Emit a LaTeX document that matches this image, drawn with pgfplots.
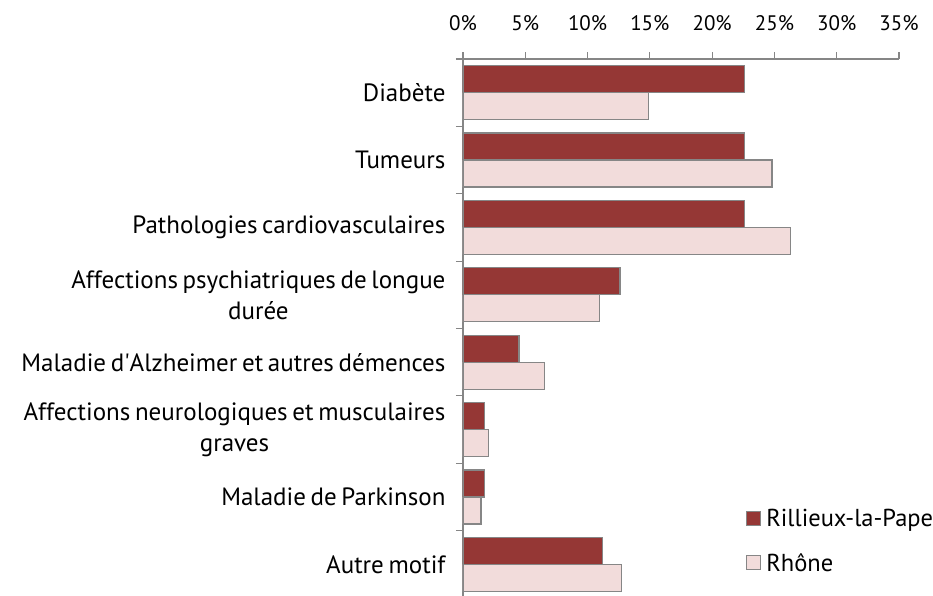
\documentclass[border=0pt]{standalone}
\usepackage{pgfplots}
\pgfplotsset{compat=1.18}
\usepackage{fontspec}
\setmainfont{PT Sans}[WordSpace=0.7]
\newfontfamily\plainapos{PT Sans}[WordSpace=0.7, Ligatures=TeXOff]
\definecolor{rdark}{HTML}{953735}
\definecolor{rlight}{HTML}{F2DCDB}
\definecolor{edge}{HTML}{868686}
\begin{document}
\begin{tikzpicture}
\useasboundingbox (-463pt,3pt) rectangle (470pt,598pt);
\begin{axis}[
  at={(0pt,0pt)}, anchor=south west,
  scale only axis, width=436pt, height=539pt,
  xbar=0pt, bar width=27pt,
  xmin=0, xmax=35, xtick={0,5,...,35},
  /pgf/number format/assume math mode=true,
  xticklabel={\pgfmathprintnumber{\tick}\%},
  xticklabel style={yshift=18pt},
  axis x line*=top, axis y line*=left,
  y dir=reverse, ymin=-0.5, ymax=7.5,
  ytick={-0.5,0.5,...,7.5}, yticklabels={},
  extra y ticks={0,1,2,3,4,5,6,7},
  extra y tick labels={Diabète,Tumeurs,Pathologies cardiovasculaires,{Affections psychiatriques de longue\\durée},{Maladie d{\plainapos'}Alzheimer et autres démences},{Affections neurologiques et musculaires\\graves},Maladie de Parkinson,Autre motif},
  extra y tick style={major tick length=0pt, yticklabel style={align=center, anchor=east, xshift=-14pt, font=\fontsize{25}{31}\selectfont}},
  tick align=outside, major tick length=7pt,
  axis line style={draw=edge, line width=1.2pt},
  tick style={draw=edge, line width=1.2pt},
  ticklabel style={font=\fontsize{21}{27}\selectfont},
  legend style={at={(0.642,0.1725)}, anchor=north west, draw=none, fill=none,
    font=\fontsize{24.5}{30}\selectfont, row sep=21pt,
    nodes={inner xsep=5pt}},
  legend cell align=left,
  legend image code/.code={\draw[#1,line width=1.2pt] (0pt,-7pt) rectangle (14pt,7pt);},
]
\addplot[fill=rdark, draw=edge, line width=1.2pt, bar shift=13.5pt] coordinates {
 (22.6,0) (22.6,1) (22.6,2) (12.6,3) (4.5,4) (1.75,5) (1.75,6) (11.2,7)};
\addplot[fill=rlight, draw=edge, line width=1.2pt, bar shift=-13.5pt] coordinates {
 (14.9,0) (24.8,1) (26.3,2) (10.95,3) (6.55,4) (2.05,5) (1.45,6) (12.75,7)};
\legend{Rillieux-la-Pape, Rhône}
\end{axis}
\end{tikzpicture}
\end{document}
